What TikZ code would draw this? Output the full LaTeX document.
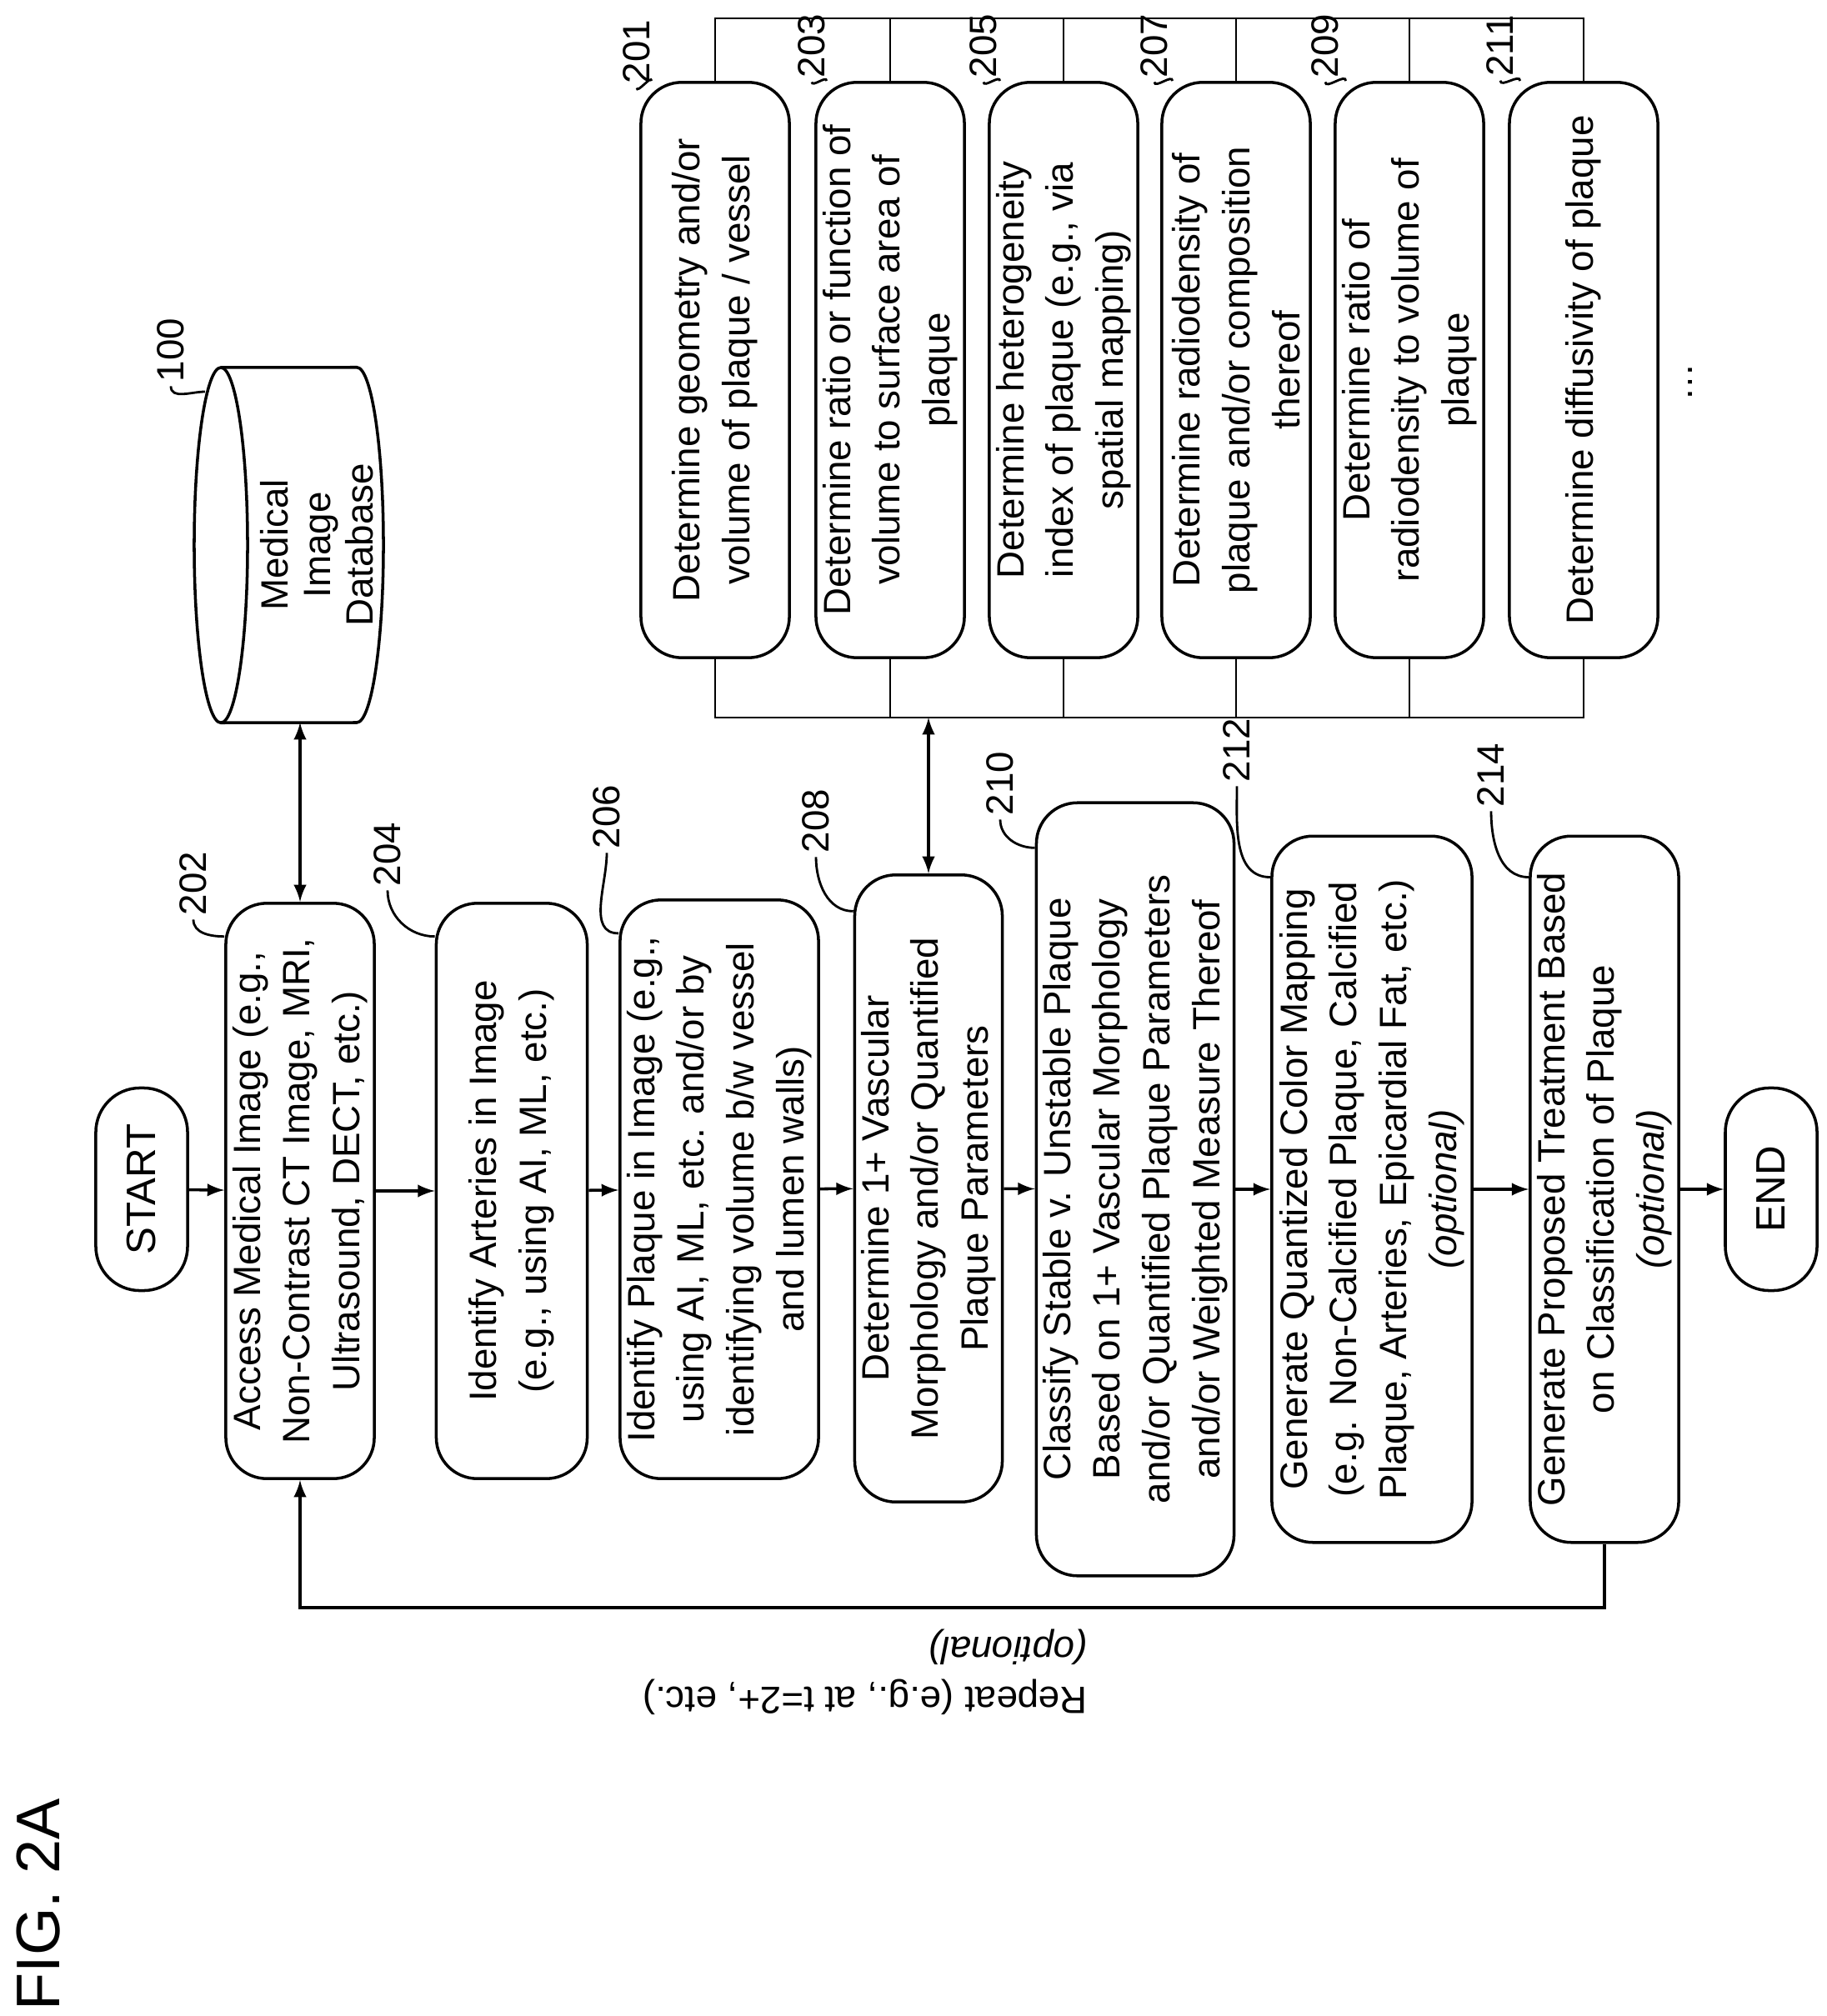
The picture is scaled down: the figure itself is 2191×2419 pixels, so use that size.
\documentclass[tikz,border=0pt]{standalone}
\usepackage{fontspec}
\setmainfont{Liberation Sans}
\usetikzlibrary{arrows, positioning, calc}

\begin{document}
\begin{tikzpicture}[x=0.01cm, y=-0.01cm, line width=1pt,
  every node/.style={rotate=90, font=\fontsize{13}{17}\selectfont},
  step box/.style={draw, rounded corners=14pt, align=center, inner sep=2pt},
  term/.style={draw, rounded corners=0.53cm, minimum width=2.43cm, minimum height=1.1cm, font=\fontsize{14}{17}\selectfont},
  param box/.style={step box, fill=white, minimum width=6.9cm, minimum height=1.78cm},
  ref/.style={inner sep=1pt},
  leader/.style={line width=0.8pt}]
  \useasboundingbox (0,0) rectangle (2191,2419);

  \node[font=\fontsize{21}{24}\selectfont] (fig) at (46,2285) {FIG. 2A};

  % main flow
  \node[term] (start) at (170,1427) {START};
  \node[step box, minimum width=6.9cm, minimum height=1.78cm] (b202) at (360,1429) {Access Medical Image (e.g.,\\Non-Contrast CT Image, MRI,\\Ultrasound, DECT, etc.)};
  \node[step box, minimum width=6.9cm, minimum height=1.81cm] (b204) at (614,1429) {Identify Arteries in Image\\(e.g., using AI, ML, etc.)};
  \node[step box, minimum width=6.94cm, minimum height=2.38cm] (b206) at (863,1427) {Identify Plaque in Image (e.g.,\\using AI, ML, etc. and/or by\\identifying volume b/w vessel\\and lumen walls)};
  \node[step box, minimum width=7.52cm, minimum height=1.77cm] (b208) at (1114,1426) {Determine 1+ Vascular\\Morphology and/or Quantified\\Plaque Parameters};
  \node[step box, minimum width=9.27cm, minimum height=2.37cm] (b210) at (1362,1427) {Classify Stable v. Unstable Plaque\\Based on 1+ Vascular Morphology\\and/or Quantified Plaque Parameters\\and/or Weighted Measure Thereof};
  \node[step box, minimum width=8.47cm, minimum height=2.4cm] (b212) at (1646,1427) {Generate Quantized Color Mapping\\(e.g. Non-Calcified Plaque, Calcified\\Plaque, Arteries, Epicardial Fat, etc.)\\\textit{(optional)}};
  \node[step box, minimum width=8.47cm, minimum height=1.78cm] (b214) at (1925,1427) {Generate Proposed Treatment Based\\on Classification of Plaque\\\textit{(optional)}};
  \node[term] (end) at (2125,1427) {END};

  \path[-latex] (start) edge (b202);
  \path[-latex] (b202) edge (b204);
  \path[-latex] (b204) edge (b206);
  \path[-latex] (b206) edge (b208);
  \path[-latex] (b208) edge (b210);
  \path[-latex] (b210) edge (b212);
  \path[-latex] (b212) edge (b214);
  \path[-latex] (b214) edge (end);

  % repeat loop
  \coordinate (loop) at (0,1929);
  \draw[-latex] (b214.west) -- (b214.west |- loop) -| (b202.west);
  \node[rotate=90, align=left] (rep) at (1038,2006) {Repeat (e.g., at t=2+, etc.)\\\textit{(optional)}};

  % database
  \node[align=center, font=\fontsize{13}{14.5}\selectfont] (db) at (380,654) {Medical\\Image\\Database};
  \draw (265,441) arc[start angle=90, end angle=270, x radius=0.32cm, y radius=2.13cm]
    -- (428,867) arc[start angle=270, end angle=450, x radius=0.32cm, y radius=2.13cm] -- cycle;
  \draw (265,441) arc[start angle=90, end angle=-90, x radius=0.32cm, y radius=2.13cm];
  \coordinate (dbS) at (0,867);
  \draw[latex-latex] (b202.east) -- (b202.east |- dbS);

  % parameter group
  \coordinate (grpN) at (0,22);
  \coordinate (grpS) at (0,861);
  \draw[line width=0.6pt] (858,22) rectangle (1900,861);
  \foreach \x in {1068,1276,1483,1691}
    \draw[line width=0.6pt] (\x,22) -- (\x,861);
  \node[param box] (b201) at (858,444) {Determine geometry and/or\\volume of plaque / vessel};
  \node[param box] (b203) at (1068,444) {Determine ratio or function of\\volume to surface area of\\plaque};
  \node[param box] (b205) at (1276,444) {Determine heterogeneity\\index of plaque (e.g., via\\spatial mapping)};
  \node[param box] (b207) at (1483,444) {Determine radiodensity of\\plaque and/or composition\\thereof};
  \node[param box] (b209) at (1691,444) {Determine ratio of\\radiodensity to volume of\\plaque};
  \node[param box] (b211) at (1900,444) {Determine diffusivity of plaque};
  \node (more) at (2028,459) {\dots};
  \draw[latex-latex] (b208.east) -- (b208.east |- grpS);

  % reference numerals
  \node[ref] (l100) at (205,420) {100};
  \node[ref] (l202) at (232,1060) {202};
  \node[ref] (l204) at (465,1025) {204};
  \node[ref] (l206) at (728,980) {206};
  \node[ref] (l208) at (979,985) {208};
  \node[ref] (l210) at (1200,940) {210};
  \node[ref] (l212) at (1484,900) {212};
  \node[ref] (l214) at (1789,930) {214};
  \node[ref] (l201) at (764,62) {201};
  \node[ref] (l203) at (974,55) {203};
  \node[ref] (l205) at (1180,55) {205};
  \node[ref] (l207) at (1385,55) {207};
  \node[ref] (l209) at (1590,55) {209};
  \node[ref] (l211) at (1800,55) {211};

  \draw[leader] (l100.west) to[out=-90, in=180] (246,470);
  \foreach \n in {202,204,206,208,210,212,214}
    \draw[leader] (l\n.west) to[out=-90, in=180] ($(b\n.north east)!0.06!(b\n.north west)$);
  \foreach \n in {201,203,205,207,209,211}
    \draw[leader] (l\n.west) to[out=-90, in=90] ($(b\n.north east)!0.08!(b\n.south east)$);
\end{tikzpicture}
\end{document}
